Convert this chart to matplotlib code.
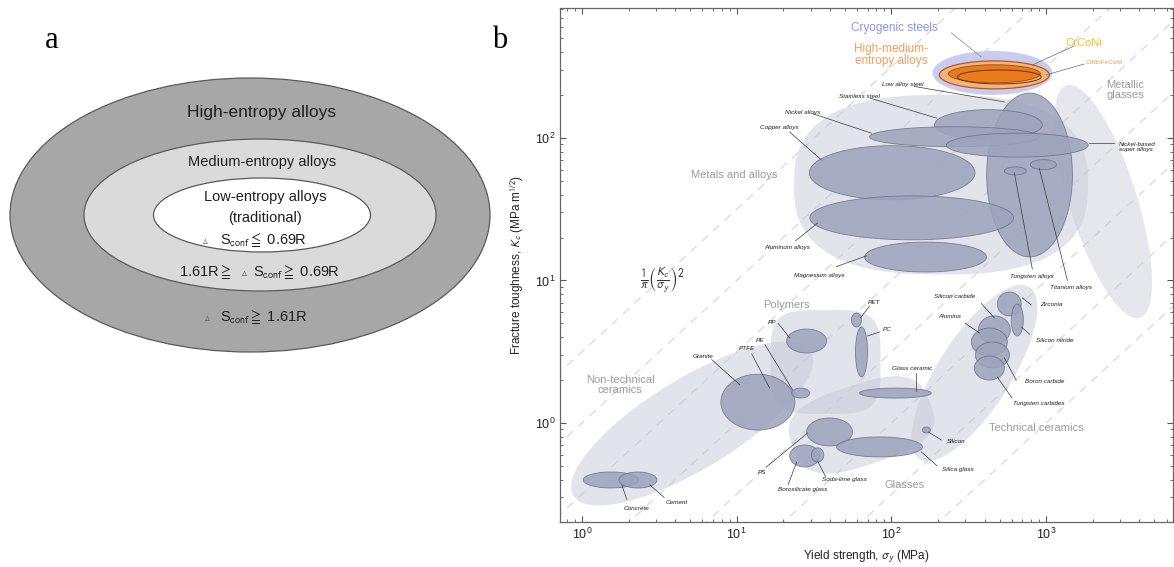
import numpy as np
import matplotlib
matplotlib.use('Agg')
import matplotlib.pyplot as plt
from matplotlib.patches import Ellipse

plt.rcParams['font.family'] = ['Liberation Sans', 'DejaVu Sans']
plt.rcParams['mathtext.fontset'] = 'stixsans'

# ---------------- data: panel b (Ashby chart) ----------------
# envelopes: centre (sigma_y MPa, K_c MPa m^1/2), semi-axes in decades, angle (deg), squareness
env_names = ['Non-technical ceramics', 'Polymers', 'Glasses', 'Technical ceramics',
             'Metals and alloys', 'Metallic glasses']
env_x = [5.16, 37.5, 64.0, 343.0, 209.0, 2333.0]
env_y = [0.99, 2.68, 0.97, 2.24, 47.0, 35.8]
env_a = [0.92, 0.355, 0.47, 0.70, 0.95, 0.85]
env_b = [0.31, 0.365, 0.28, 0.24, 0.63, 0.22]
env_ang = [34, 0, 20, 60, 0, -74]
env_n = [2, 4, 3, 2, 2.6, 2]

# material families
mat_names = ['Steels', 'Copper alloys', 'Aluminum alloys', 'Magnesium alloys',
             'Stainless steel', 'Nickel alloys', 'Nickel-based super alloys',
             'Tungsten alloys', 'Titanium alloys',
             'Concrete', 'Cement', 'Granite', 'PE', 'PP', 'PET', 'PC',
             'PS', 'Borosilicate glass', 'Soda-lime glass', 'Silica glass',
             'Glass ceramic', 'Silicon',
             'Zirconia', 'Silicon nitride', 'Silicon carbide', 'Alumina',
             'Boron carbide', 'Tungsten carbides']
mat_x = [780, 101, 135, 166, 423, 255, 650, 631, 958,
         1.54, 2.30, 13.7, 25.9, 28.3, 59.4, 64.0,
         39.8, 27.5, 33.3, 83.7, 106, 168,
         577, 650, 462, 429, 449, 429]
mat_y = [55, 57, 27.5, 14.6, 124, 102, 89, 58.7, 65,
         0.398, 0.398, 1.40, 1.62, 3.76, 5.28, 3.15,
         0.865, 0.587, 0.596, 0.679, 1.62, 0.893,
         6.84, 5.28, 4.5, 3.70, 3.0, 2.43]
mat_a = [0.277, 0.535, 0.658, 0.394, 0.348, 0.548, 0.458, 0.071, 0.084,
         0.18, 0.123, 0.239, 0.058, 0.129, 0.032, 0.039,
         0.148, 0.097, 0.04, 0.277, 0.232, 0.026,
         0.077, 0.039, 0.103, 0.116, 0.11, 0.097]
mat_b = [0.575, 0.19, 0.154, 0.105, 0.105, 0.07, 0.084, 0.028, 0.035,
         0.056, 0.056, 0.196, 0.035, 0.084, 0.049, 0.175,
         0.098, 0.077, 0.05, 0.07, 0.035, 0.021,
         0.084, 0.112, 0.098, 0.098, 0.091, 0.084]

# high performance alloys
cryo_x, cryo_y, cryo_a, cryo_b = 449, 286, 0.387, 0.154
hea_x, hea_y, hea_a, hea_b = 462, 277, 0.355, 0.098
hea_in_x, hea_in_y, hea_in_a, hea_in_b = 462, 282, 0.297, 0.063
crconi_x, crconi_y, crconi_a, crconi_b = 497, 268, 0.271, 0.049

# small labels: text, text position, leader (start -> end)
lab_text = ['Low alloy steel', 'Stainless steel', 'Nickel alloys', 'Copper alloys',
            'Aluminum alloys', 'Magnesium alloys', 'Nickel-based\nsuper alloys',
            'Tungsten alloys', 'Titanium alloys',
            'PP', 'PET', 'PC', 'PE', 'PTFE', 'Granite', 'Concrete', 'Cement',
            'PS', 'Borosilicate glass', 'Soda-lime glass', 'Silica glass', 'Silicon',
            'Glass ceramic', 'Silicon carbide', 'Alumina', 'Zirconia',
            'Silicon nitride', 'Boron carbide', 'Tungsten carbides']
lab_x = [118, 62.2, 26.7, 18.9, 21.3, 34.3, 2958, 813, 1450,
         16.8, 77.6, 94.2, 14.1, 11.6, 6.04, 2.26, 4.1,
         14.5, 26.7, 49.8, 267, 263, 137, 255, 237, 1077, 1127, 970, 901]
lab_y = [235.5, 194, 152, 117.5, 16.9, 10.9, 86.5, 10.6, 8.86,
         5.11, 6.95, 4.5, 3.82, 3.31, 2.95, 0.253, 0.275,
         0.446, 0.339, 0.398, 0.468, 0.736, 2.43, 7.66, 5.55, 6.73, 3.82, 1.94, 1.38]
lead_x0 = [140, 73, 31, 22, 24, 44, 2750, 813, 1370,
           18.5, 72, 84, 15.2, 12.5, 6.9, 1.95, 3.4,
           15.5, 21.5, 37.5, 197, 210, 145, 380, 300, 800, 780, 640, 600]
lead_y0 = [230, 190, 148, 110, 19.0, 12.5, 92.2, 12.0, 10.0,
           5.0, 6.6, 4.35, 3.55, 3.05, 2.78, 0.29, 0.30,
           0.49, 0.37, 0.42, 0.50, 0.76, 2.25, 6.9, 5.0, 6.73, 4.2, 2.0, 1.50]
lead_x1 = [536, 195, 74.3, 35.3, 33.3, 69, 1893, 622, 901,
           22.0, 63, 70, 23.0, 16.3, 10.5, 1.81, 2.75,
           28.7, 24.4, 33.3, 156, 173, 145, 462, 370, 700, 690, 536, 483]
lead_y1 = [179, 138, 108, 70, 25.3, 14.9, 92.2, 56.8, 61.5,
           3.95, 5.46, 4.08, 1.70, 1.76, 1.85, 0.367, 0.367,
           0.851, 0.532, 0.541, 0.626, 0.865, 1.68, 5.46, 4.28, 7.54, 4.72, 2.86, 2.10]

# guide lines K_c = c * sigma_y (log10 c)
guide_logc = [0.5, 0.0, -0.5, -1.0, -1.5, -2.0, -2.5, -3.0]

# axis ranges (log10)
xlog_lim = (-0.142, 3.819)
ylog_lim = (-0.695, 2.912)

# ---------------- data: panel a ----------------
ring_names = ['High-entropy alloys', 'Medium-entropy alloys', 'Low-entropy alloys']
ring_cx = [250, 260, 262]
ring_w = [480, 352, 217]
ring_h = [274, 152, 74]
ring_fc = ['#a7a7a7', '#dadada', '#ffffff']

# ---------------- figure ----------------
W, H = 1174, 567
fig = plt.figure(figsize=(W / 100, H / 100), dpi=100)

# panel a (pixel coordinates)
axa = fig.add_axes([0, 0, 1, 1])
axa.set_xlim(0, W)
axa.set_ylim(H, 0)
axa.axis('off')
cy_a = 215
for cx, w, h, fc in zip(ring_cx, ring_w, ring_h, ring_fc):
    axa.add_patch(Ellipse((cx, cy_a), w, h, facecolor=fc, edgecolor='#5a5a5a', lw=0.9))
axa.text(262, 113, ring_names[0], ha='center', va='center', fontsize=12.5, color='#1e1e1e')
axa.text(262, 162, ring_names[1], ha='center', va='center', fontsize=10.5, color='#1e1e1e')
axa.text(265, 197, ring_names[2], ha='center', va='center', fontsize=10.5, color='#1e1e1e')
axa.text(265, 218, '(traditional)', ha='center', va='center', fontsize=10.5, color='#1e1e1e')


def entropy_line(x_tri, x_txt, y, txt, pre=None, x_pre=None):
    if pre is not None:
        axa.text(x_pre, y, pre, ha='left', va='center', fontsize=10.5, color='#1e1e1e')
    axa.text(x_tri, y + 1, '\u25b5', ha='center', va='center', fontsize=7,
             color='#555555', family=['DejaVu Sans'])
    axa.text(x_txt, y, txt, ha='left', va='center', fontsize=10.5, color='#1e1e1e')


entropy_line(205, 220, 240, r'S$_{\rm conf}\leqq$ 0.69R')
entropy_line(244, 253, 272, r'S$_{\rm conf}\geqq$ 0.69R', pre=r'1.61R$\geqq$', x_pre=179)
entropy_line(207, 220, 317, r'S$_{\rm conf}\geqq$ 1.61R')

axa.text(52, 40, 'a', ha='center', va='center', fontsize=22, family=['Liberation Serif'])
axa.text(500, 40, 'b', ha='center', va='center', fontsize=22, family=['Liberation Serif'])

# panel b
L, R, T, B = 560, 1173, 8, 522
axb = fig.add_axes([L / W, 1 - B / H, (R - L) / W, (B - T) / H])
axb.set_xscale('log')
axb.set_yscale('log')
axb.set_xlim(10 ** xlog_lim[0], 10 ** xlog_lim[1])
axb.set_ylim(10 ** ylog_lim[0], 10 ** ylog_lim[1])


def blob(cx, cy, a, b, ang=0.0, n=2, **kw):
    t = np.linspace(0, 2 * np.pi, 300)
    c, s = np.cos(t), np.sin(t)
    u = a * np.sign(c) * np.abs(c) ** (2.0 / n)
    v = b * np.sign(s) * np.abs(s) ** (2.0 / n)
    th = np.deg2rad(ang)
    lx = np.log10(cx) + u * np.cos(th) - v * np.sin(th)
    ly = np.log10(cy) + u * np.sin(th) + v * np.cos(th)
    return axb.fill(10 ** lx, 10 ** ly, **kw)


# guide lines
xs = np.logspace(xlog_lim[0] - 0.1, xlog_lim[1] + 0.1, 50)
for lc in guide_logc:
    axb.plot(xs, xs * 10 ** lc, color='#dcdcdc', lw=1.0, dashes=(6, 5), zorder=0.5)

# envelopes
for i in range(len(env_names)):
    fc = '#c6cad8' if env_names[i] != 'Metallic glasses' else '#cdd0dc'
    blob(env_x[i], env_y[i], env_a[i], env_b[i], env_ang[i], env_n[i],
         facecolor=fc, alpha=0.5, edgecolor='none', zorder=1)

# cryogenic steels
blob(cryo_x, cryo_y, cryo_a, cryo_b, facecolor='#c4c7ee', edgecolor='none', alpha=0.9, zorder=1.5)

# material bubbles
for i in range(len(mat_names)):
    blob(mat_x[i], mat_y[i], mat_a[i], mat_b[i], facecolor='#9da3bb', alpha=0.85,
         edgecolor='#6c7189', lw=0.6, zorder=2)

# high / medium entropy alloys
blob(hea_x, hea_y, hea_a, hea_b, facecolor='#f4b47e', edgecolor='#b8581a', lw=0.9, zorder=3)
blob(hea_in_x, hea_in_y, hea_in_a, hea_in_b, facecolor='#e97b1d', edgecolor='#a0480f', lw=0.6, zorder=3.1)
blob(crconi_x, crconi_y, crconi_a, crconi_b, facecolor='none', edgecolor='#6a3410', lw=0.7, zorder=3.2)

# leaders and small labels
for i in range(len(lab_text)):
    axb.plot([lead_x0[i], lead_x1[i]], [lead_y0[i], lead_y1[i]], color='#3a3a3a', lw=0.5, zorder=4)
    ha = 'left' if lab_text[i].startswith('Nickel-based') else 'center'
    axb.text(lab_x[i], lab_y[i], lab_text[i], fontsize=4.6, style='italic', color='#1e1e1e',
             ha=ha, va='center', zorder=5, linespacing=1.1)

# category labels
cat_col = '#9a9aa4'
axb.text(9.7, 55, 'Metals and alloys', fontsize=8, color=cat_col, ha='center', va='center', zorder=5)
axb.text(21, 6.73, 'Polymers', fontsize=8, color=cat_col, ha='center', va='center', zorder=5)
axb.text(1.76, 1.85, 'Non-technical\nceramics', fontsize=8, color=cat_col, ha='center', va='center',
         zorder=5, linespacing=1.0)
axb.text(121, 0.367, 'Glasses', fontsize=8, color=cat_col, ha='center', va='center', zorder=5)
axb.text(861, 0.92, 'Technical ceramics', fontsize=8, color=cat_col, ha='center', va='center', zorder=5)
axb.text(3250, 217, 'Metallic\nglasses', fontsize=8, color=cat_col, ha='center', va='center',
         zorder=5, linespacing=1.1)

# alloy labels
axb.text(104.5, 591, 'Cryogenic steels', fontsize=8.5, color='#8797e6', ha='center', va='center', zorder=5)
axb.plot([244, 380], [546, 370], color='#8a8a8a', lw=0.5, zorder=4)
axb.text(100, 382, 'High-medium-\nentropy alloys', fontsize=8.5, color='#f29f5a', ha='center',
         va='center', zorder=5, linespacing=1.0)
axb.text(1758, 464, 'CrCoNi', fontsize=8, color='#f0c21c', ha='center', va='center', zorder=5)
axb.plot([1500, 813], [440, 325], color='#6a6a6a', lw=0.5, zorder=4)
axb.text(2366, 341, 'CrMnFeCoNi', fontsize=4.6, color='#f09a4a', ha='center', va='center', zorder=5)
axb.plot([1750, 1000], [330, 277], color='#6a6a6a', lw=0.5, zorder=4)

# process-zone formula
axb.text(3.33, 10.0, r'$\frac{1}{\pi}\left(\frac{K_c}{\sigma_y}\right)^2$', fontsize=12,
         color='#333333', ha='center', va='center', zorder=5)

# axes styling
axb.tick_params(which='both', direction='in', top=True, right=True, colors='#555555',
                labelcolor='#222222', labelsize=9)
axb.tick_params(which='major', length=4, width=0.8)
axb.tick_params(which='minor', length=2, width=0.6)
for sp in axb.spines.values():
    sp.set_color('#666666')
    sp.set_linewidth(0.9)
axb.set_xlabel(r'Yield strength, $\sigma_y$ (MPa)', fontsize=8.5, color='#222222', labelpad=4)
axb.set_ylabel(r'Fracture toughness, $K_c$ (MPa m$^{1/2}$)', fontsize=8.5, color='#222222', labelpad=6)

fig.savefig('out.png', dpi=100)
